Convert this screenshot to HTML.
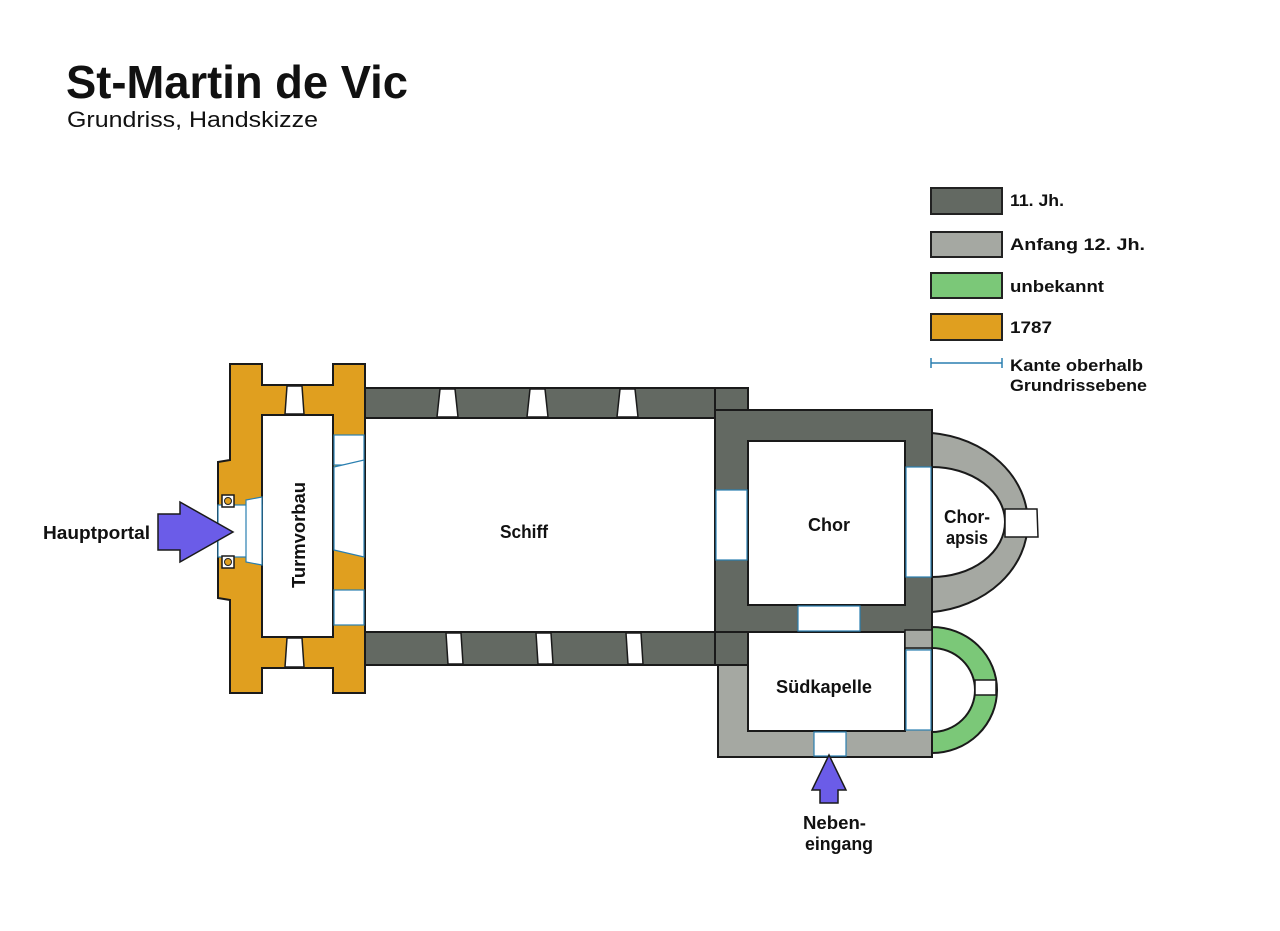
<!DOCTYPE html>
<html><head><meta charset="utf-8"><style>
html,body{margin:0;padding:0;background:#fff;}
svg{display:block;}
text{font-family:"Liberation Sans",sans-serif;fill:#111;}
</style></head><body>
<svg width="1280" height="931" viewBox="0 0 1280 931" xmlns="http://www.w3.org/2000/svg">
<rect width="1280" height="931" fill="#fff"/>
<text x="66" y="98" font-size="46" font-weight="bold" textLength="342" lengthAdjust="spacingAndGlyphs">St-Martin de Vic</text>
<text x="67" y="127" font-size="22" textLength="251" lengthAdjust="spacingAndGlyphs">Grundriss, Handskizze</text>

<g stroke="#222" stroke-width="2">
<rect x="931" y="188" width="71" height="26" fill="#636962"/>
<rect x="931" y="232" width="71" height="25" fill="#a5a8a2"/>
<rect x="931" y="273" width="71" height="25" fill="#7bc878"/>
<rect x="931" y="314" width="71" height="26" fill="#e09f1f"/>
</g>
<g stroke="#2a7fb0" stroke-width="1.5"><line x1="931" y1="363" x2="1002" y2="363"/><line x1="931" y1="358" x2="931" y2="368"/><line x1="1002" y1="358" x2="1002" y2="368"/></g>
<g font-size="17" font-weight="bold" lengthAdjust="spacingAndGlyphs">
<text x="1010" y="206" textLength="54" lengthAdjust="spacingAndGlyphs">11. Jh.</text>
<text x="1010" y="250" textLength="135" lengthAdjust="spacingAndGlyphs">Anfang 12. Jh.</text>
<text x="1010" y="292" textLength="94" lengthAdjust="spacingAndGlyphs">unbekannt</text>
<text x="1010" y="333" textLength="42" lengthAdjust="spacingAndGlyphs">1787</text>
<text x="1010" y="371" textLength="133" lengthAdjust="spacingAndGlyphs">Kante oberhalb</text>
<text x="1010" y="391" textLength="137" lengthAdjust="spacingAndGlyphs">Grundrissebene</text>
</g>

<g stroke="#1a1a1a" stroke-width="2">
<path d="M932 433 A107 90 0 0 1 932 612 L932 577 A73 55 0 0 0 932 467 Z" fill="#a5a8a2"/>
<path d="M932 627 A65 63 0 0 1 932 753 L932 732 A43 42 0 0 0 932 648 Z" fill="#7bc878"/>
<path d="M718 630 L932 630 L932 757 L718 757 Z M748 632 L748 731 L905 731 L905 632 Z" fill="#a5a8a2" fill-rule="evenodd"/>
<rect x="365" y="388" width="383" height="30" fill="#636962"/>
<rect x="365" y="632" width="383" height="33" fill="#636962"/>
<rect x="715" y="388" width="33" height="277" fill="#636962"/>
<path d="M745 410 L932 410 L932 632 L715 632 L715 410 Z M748 441 L748 605 L905 605 L905 441 Z" fill="#636962" fill-rule="evenodd"/>
<path d="M230 364 L262 364 L262 385 L333 385 L333 364 L365 364 L365 693 L333 693 L333 668 L262 668 L262 693 L230 693 L230 600 L218 598 L218 462 L230 460 Z M262 415 L262 637 L333 637 L333 415 Z" fill="#e09f1f" fill-rule="evenodd"/>
</g>
<g fill="#fff" stroke="#1a1a1a" stroke-width="1.5">
<path d="M287 386 L302 386 L304 414 L285 414 Z"/>
<path d="M287 638 L302 638 L304 667 L285 667 Z"/>
<path d="M440 389 L455 389 L458 417 L437 417 Z"/>
<path d="M530 389 L545 389 L548 417 L527 417 Z"/>
<path d="M620 389 L635 389 L638 417 L617 417 Z"/>
<path d="M446 633 L461 633 L463 664 L448 664 Z"/>
<path d="M536 633 L551 633 L553 664 L538 664 Z"/>
<path d="M626 633 L641 633 L643 664 L628 664 Z"/>
<path d="M1005 509 L1037 509 L1038 537 L1005 537 Z"/>
<rect x="975" y="680" width="21" height="15"/>
</g>
<g fill="#fff" stroke="#2a7fb0" stroke-width="1.2">
<rect x="334" y="435" width="30" height="30"/>
<path d="M334 467 L364 460 L364 557 L334 550 Z"/>
<rect x="334" y="590" width="30" height="35"/>
<rect x="218" y="505" width="44" height="52"/>
<path d="M246 500 L262 497 L262 565 L246 562 Z"/>
<rect x="716" y="490" width="31" height="70"/>
<rect x="906" y="467" width="25" height="110"/>
<rect x="798" y="606" width="62" height="25"/>
<rect x="906" y="650" width="25" height="80"/>
<rect x="814" y="732" width="32" height="24"/>
</g>
<g stroke="#1a1a1a" stroke-width="1.5" fill="#fff">
<rect x="222" y="495" width="12" height="12"/>
<rect x="222" y="556" width="12" height="12"/>
</g>
<circle cx="228" cy="501" r="3.5" fill="#e09f1f" stroke="#222"/>
<circle cx="228" cy="562" r="3.5" fill="#e09f1f" stroke="#222"/>
<rect x="905" y="630" width="27" height="18" fill="#a5a8a2" stroke="#1a1a1a" stroke-width="1.5"/>

<path d="M158 514 L180 514 L180 502 L233 532 L180 562 L180 550 L158 550 Z" fill="#6b5ce8" stroke="#1a1a1a" stroke-width="1.5"/>
<path d="M829 755 L846 790 L838 790 L838 803 L820 803 L820 790 L812 790 Z" fill="#6b5ce8" stroke="#1a1a1a" stroke-width="1.5"/>

<g font-size="18" font-weight="bold">
<text x="43" y="539" textLength="107" lengthAdjust="spacingAndGlyphs">Hauptportal</text>
<text x="500" y="538" textLength="48" lengthAdjust="spacingAndGlyphs">Schiff</text>
<text x="808" y="531" textLength="42" lengthAdjust="spacingAndGlyphs">Chor</text>
<text x="944" y="523" textLength="46" lengthAdjust="spacingAndGlyphs">Chor-</text>
<text x="946" y="544" textLength="42" lengthAdjust="spacingAndGlyphs">apsis</text>
<text x="776" y="693" textLength="96" lengthAdjust="spacingAndGlyphs">Südkapelle</text>
<text x="803" y="829" textLength="63" lengthAdjust="spacingAndGlyphs">Neben-</text>
<text x="805" y="850" textLength="68" lengthAdjust="spacingAndGlyphs">eingang</text>
<text transform="translate(305 535) rotate(-90)" text-anchor="middle" textLength="106" lengthAdjust="spacingAndGlyphs">Turmvorbau</text>
</g>
</svg>
</body></html>
